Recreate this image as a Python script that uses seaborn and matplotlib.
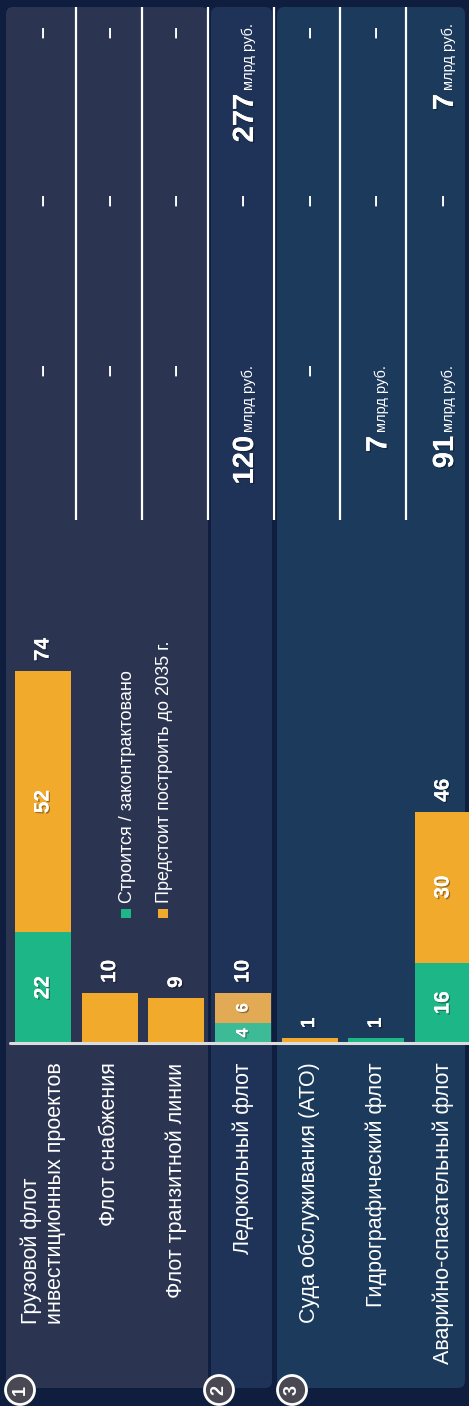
import numpy as np
import pandas as pd
import matplotlib
matplotlib.use("Agg")
import matplotlib.pyplot as plt
import matplotlib.patheffects as pe
from matplotlib.patches import FancyBboxPatch, Rectangle, Circle
import seaborn as sns

# ---- data -------------------------------------------------------------
categories = [
    "Грузовой флот\nинвестиционных проектов",
    "Флот снабжения",
    "Флот транзитной линии",
    "Ледокольный флот",
    "Суда обслуживания (АТО)",
    "Гидрографический флот",
    "Аварийно-спасательный флот",
]
built = [22, 0, 0, 4, 0, 1, 16]          # строится / законтрактовано
planned = [52, 10, 9, 6, 1, 0, 30]       # предстоит построить до 2035 г.
series_names = ["Строится / законтрактовано", "Предстоит построить до 2035 г."]

# funding table, three columns per fleet type ("–" = no data)
funding_a = ["–", "–", "–", "120", "–", "7", "91"]
funding_b = ["–", "–", "–", "–", "–", "–", "–"]
funding_c = ["–", "–", "–", "277", "–", "–", "7"]
unit_label = "млрд руб."

group_numbers = ["1", "2", "3"]

# ---- style ------------------------------------------------------------
sns.set_theme(style="white")
plt.rcParams["font.family"] = ["Liberation Sans", "DejaVu Sans"]

W, H = 469, 1406
BG = "#0f1e3f"
GREEN, ORANGE = "#1db687", "#f2aa2c"
GREEN_MUTED, ORANGE_MUTED = "#3dba96", "#e2aa55"
muted_row = 3

X0, STEP = 43.0, 66.67        # centre of first column and column pitch, px
BASE = 1043                   # baseline, px from top
PXU = 5.03                    # px per vessel

fig = plt.figure(figsize=(W / 100, H / 100), dpi=100, facecolor=BG)

# background layer in pixel coordinates
bg = fig.add_axes([0, 0, 1, 1])
bg.set_xlim(0, W)
bg.set_ylim(H, 0)
bg.axis("off")
bg.set_facecolor(BG)

panels = [(6, 208, "#2b3552"), (211, 272, "#1f3358"), (277, 465, "#1b3a5c")]
for x0, x1, col in panels:
    bg.add_patch(FancyBboxPatch((x0, 7), x1 - x0, 1381,
                                boxstyle="round,pad=0,rounding_size=7",
                                fc=col, ec="none", zorder=1))

# table separators
bg.vlines([76, 142, 208, 274, 340, 406], 7, 520, color="white", lw=1.6, zorder=3)

shadow = [pe.withSimplePatchShadow(offset=(1, -1), shadow_rgbFace="black", alpha=0.35),
          pe.Normal()]

# funding cells
col_end = [365, 198, 23]
col_dash = [370, 200, 32]
for i in range(len(categories)):
    cx = X0 + STEP * i
    for vals, yend, ydash in zip([funding_a, funding_b, funding_c], col_end, col_dash):
        v = vals[i]
        if v == "–":
            bg.text(cx, ydash, "–", rotation=90, ha="center", va="center",
                    fontsize=15, fontweight="bold", color="white", zorder=4)
        else:
            u = bg.text(cx + 10, yend, unit_label, rotation=90, rotation_mode="anchor",
                        ha="right", va="baseline", fontsize=10.5, color="white", zorder=4)
            bg.annotate(v, xy=(cx + 10, 0), xycoords=("data", u),
                        xytext=(0, -3), textcoords="offset points",
                        rotation=90, rotation_mode="anchor", ha="right", va="baseline",
                        fontsize=21, fontweight="bold", color="white", zorder=4,
                        path_effects=shadow)

# legend
for (x, col), name in zip([(121, GREEN), (158, ORANGE)], series_names):
    bg.add_patch(Rectangle((x, 909), 10, 9, fc=col, ec="none", zorder=4))
    bg.text(x + 11, 903, name, rotation=90, rotation_mode="anchor", ha="left",
            va="baseline", fontsize=13, color="white", zorder=4)

# group markers
for (cx, num) in zip([20, 219, 292], group_numbers):
    bg.add_patch(Circle((cx, 1390), 14.5, fc="#4a4852", ec="white", lw=2, zorder=5))
    bg.text(cx, 1390, num, rotation=90, ha="center", va="center", fontsize=13,
            fontweight="bold", color="white", zorder=6)

# ---- bars ---------------------------------------------------------------
ax = fig.add_axes([0, (H - BASE) / H, 1, BASE / H])
ax.patch.set_alpha(0)

df = pd.DataFrame({"category": categories, "built": built, "planned": planned})
df["total"] = df["built"] + df["planned"]

orange_pal = {c: (ORANGE_MUTED if k == muted_row else ORANGE) for k, c in enumerate(categories)}
green_pal = {c: (GREEN_MUTED if k == muted_row else GREEN) for k, c in enumerate(categories)}

sns.barplot(data=df, x="category", y="total", hue="category", palette=orange_pal,
            width=0.84, saturation=1, linewidth=0, legend=False, ax=ax)
sns.barplot(data=df, x="category", y="built", hue="category", palette=green_pal,
            width=0.84, saturation=1, linewidth=0, legend=False, ax=ax)

ax.set_xlim(-X0 / STEP, (W - X0) / STEP)
ax.set_ylim(0, BASE / PXU)
ax.axis("off")
ax.axhline(0, xmin=10 / W, xmax=1, color="#dcdcdc", lw=2.2, clip_on=False, zorder=5)

for i, row in df.iterrows():
    b, p, t = row["built"], row["planned"], row["total"]
    ax.annotate(str(t), xy=(i, t), xytext=(0, 7), textcoords="offset points",
                rotation=90, ha="center", va="bottom", fontsize=15 if t > 1 else 14,
                fontweight="bold", color="white", path_effects=shadow)
    if b > 0 and p > 0:
        for val, mid in [(b, b / 2), (p, b + p / 2)]:
            ax.text(i, mid, str(val), rotation=90, ha="center", va="center",
                    fontsize=15 if val >= 10 else 12, fontweight="bold",
                    color="white", path_effects=shadow)
    ax.annotate(row["category"], xy=(i, 0), xytext=(0, -14), textcoords="offset points",
                rotation=90, ha="center", va="top", multialignment="left",
                fontsize=15.5, color="white", annotation_clip=False)

fig.savefig("out.png", dpi=100, facecolor=BG)
